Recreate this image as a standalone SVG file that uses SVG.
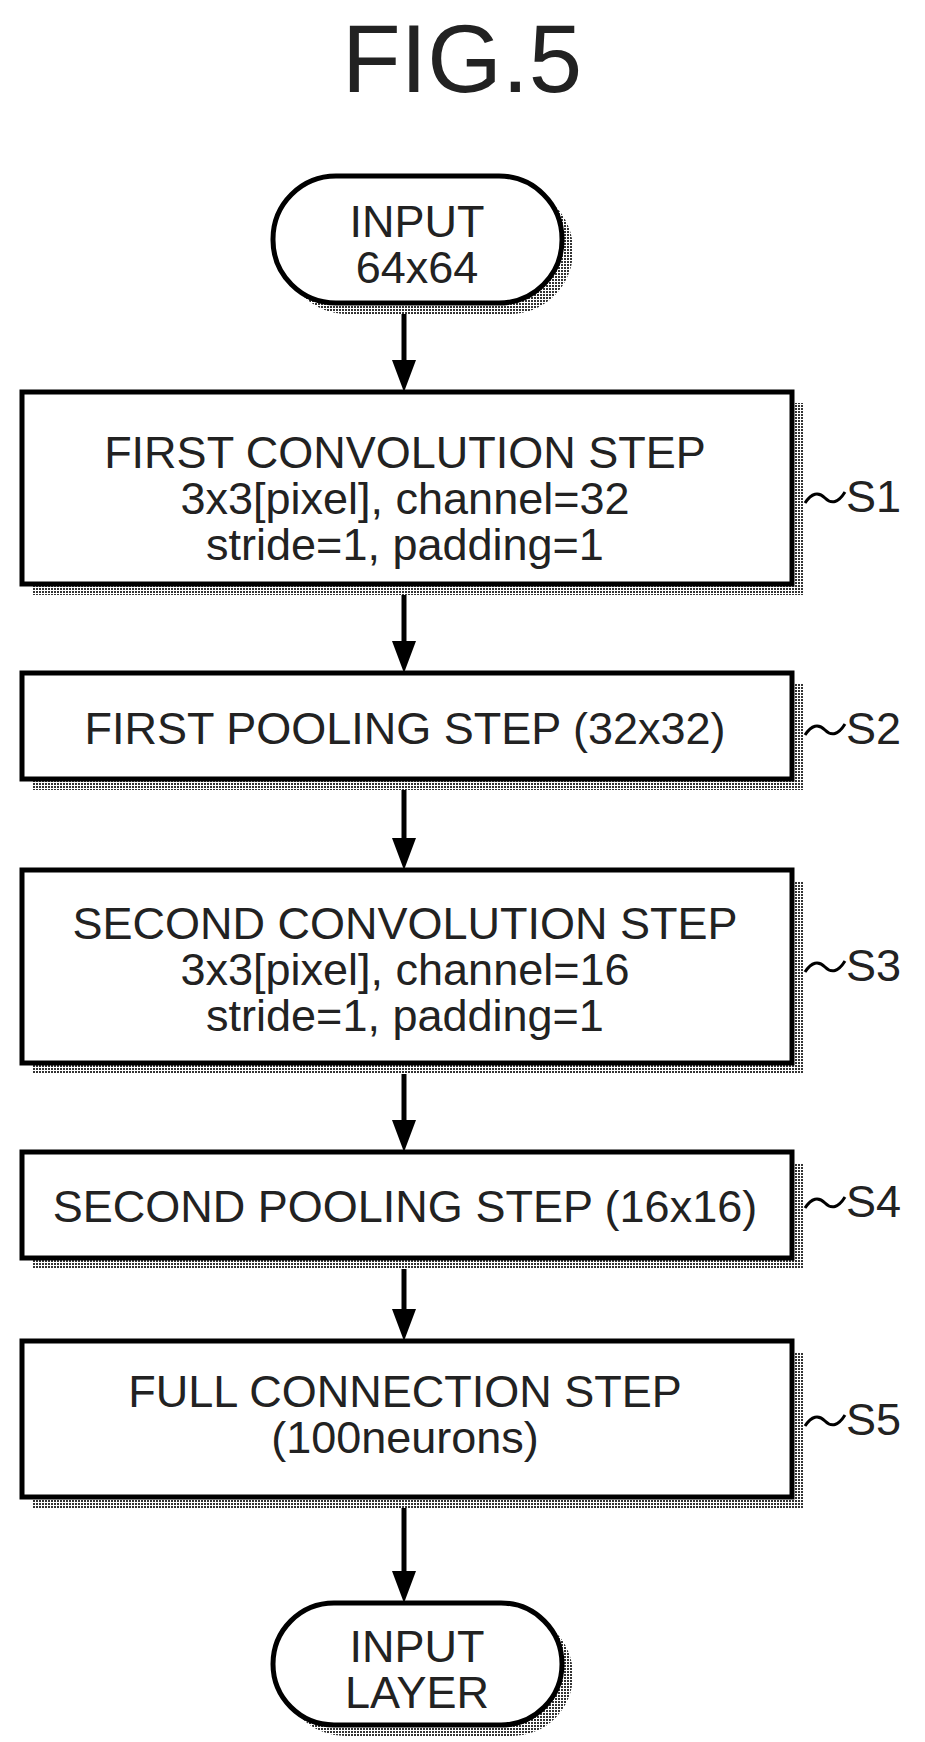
<svg xmlns="http://www.w3.org/2000/svg" width="925" height="1742" viewBox="0 0 925 1742">
<defs>
<pattern id="dots" width="3" height="3" patternUnits="userSpaceOnUse"><rect width="3" height="3" fill="#fff"/><rect width="2" height="2" fill="#333"/></pattern>
</defs>
<style>
.b{fill:#fff;stroke:#000;stroke-width:5}
.s{fill:url(#dots)}
.t{font-family:"Liberation Sans",Arial,sans-serif;font-size:45px;fill:#222;text-anchor:middle}
.l{font-family:"Liberation Sans",Arial,sans-serif;font-size:45px;fill:#222}
.c{stroke:#000;stroke-width:5;fill:none}
.tl{stroke:#000;stroke-width:3;fill:none}
</style>
<rect width="925" height="1742" fill="#fff"/>
<text x="462" y="92" style="font-family:'Liberation Sans',Arial,sans-serif;font-size:96px;fill:#222;text-anchor:middle">FIG.5</text>
<g id="connectors">
<line class="c" x1="404" y1="303" x2="404" y2="362"/>
<line class="c" x1="404" y1="584" x2="404" y2="643"/>
<line class="c" x1="404" y1="779" x2="404" y2="840"/>
<line class="c" x1="404" y1="1063" x2="404" y2="1122"/>
<line class="c" x1="404" y1="1258" x2="404" y2="1311"/>
<line class="c" x1="404" y1="1497" x2="404" y2="1573"/>
<path d="M392,360 L416,360 L404,392 z M392,641 L416,641 L404,673 z M392,838 L416,838 L404,870 z M392,1120 L416,1120 L404,1152 z M392,1309 L416,1309 L404,1341 z M392,1571 L416,1571 L404,1603 z" fill="#000"/>
</g>
<g id="start">
<rect class="s" x="284" y="187" width="289" height="127" rx="63"/>
<rect class="b" x="273" y="176" width="289" height="127" rx="63"/>
<text class="t" x="417" y="237">INPUT</text>
<text class="t" x="417" y="283">64x64</text>
</g>
<g id="s1">
<rect class="s" x="33" y="403" width="770" height="192"/>
<rect class="b" x="22" y="392" width="770" height="192"/>
<text class="t" x="405" y="468">FIRST CONVOLUTION STEP</text>
<text class="t" x="405" y="514">3x3[pixel], channel=32</text>
<text class="t" x="405" y="560">stride=1, padding=1</text>
<path class="tl" d="M805,503 Q815,488 825,498 T845,492"/>
<text class="l" x="846" y="512">S1</text>
</g>
<g id="s2">
<rect class="s" x="33" y="684" width="770" height="106"/>
<rect class="b" x="22" y="673" width="770" height="106"/>
<text class="t" x="405" y="744">FIRST POOLING STEP (32x32)</text>
<path class="tl" d="M805,735 Q815,720 825,730 T845,724"/>
<text class="l" x="846" y="744">S2</text>
</g>
<g id="s3">
<rect class="s" x="33" y="881" width="770" height="193"/>
<rect class="b" x="22" y="870" width="770" height="193"/>
<text class="t" x="405" y="939">SECOND CONVOLUTION STEP</text>
<text class="t" x="405" y="985">3x3[pixel], channel=16</text>
<text class="t" x="405" y="1031">stride=1, padding=1</text>
<path class="tl" d="M805,972 Q815,957 825,967 T845,961"/>
<text class="l" x="846" y="981">S3</text>
</g>
<g id="s4">
<rect class="s" x="33" y="1163" width="770" height="106"/>
<rect class="b" x="22" y="1152" width="770" height="106"/>
<text class="t" x="405" y="1222">SECOND POOLING STEP (16x16)</text>
<path class="tl" d="M805,1208 Q815,1193 825,1203 T845,1197"/>
<text class="l" x="846" y="1217">S4</text>
</g>
<g id="s5">
<rect class="s" x="33" y="1352" width="770" height="156"/>
<rect class="b" x="22" y="1341" width="770" height="156"/>
<text class="t" x="405" y="1407">FULL CONNECTION STEP</text>
<text class="t" x="405" y="1453">(100neurons)</text>
<path class="tl" d="M805,1426 Q815,1411 825,1421 T845,1415"/>
<text class="l" x="846" y="1435">S5</text>
</g>
<g id="end">
<rect class="s" x="284" y="1614" width="289" height="122" rx="61"/>
<rect class="b" x="273" y="1603" width="289" height="122" rx="61"/>
<text class="t" x="417" y="1662">INPUT</text>
<text class="t" x="417" y="1708">LAYER</text>
</g>
</svg>
